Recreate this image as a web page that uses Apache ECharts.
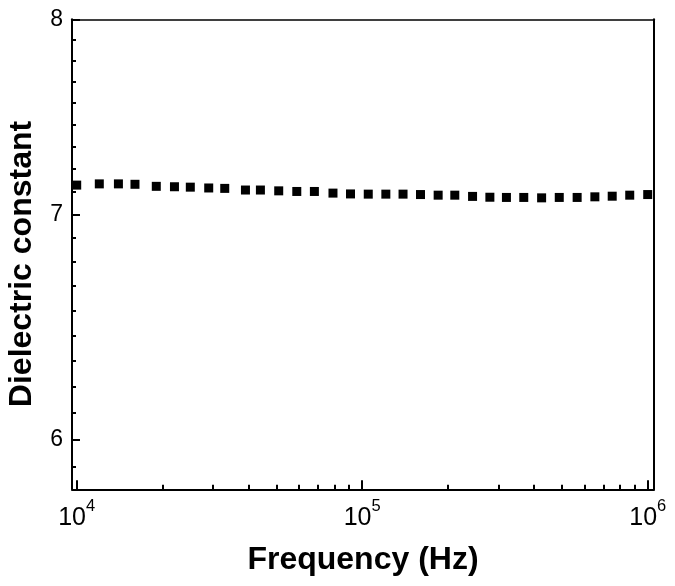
<!DOCTYPE html>
<html><head><meta charset="utf-8">
<script src="https://cdn.jsdelivr.net/npm/echarts@6/dist/echarts.min.js"></script>
<style>html,body{margin:0;padding:0;background:#fff}#c{width:675px;height:586px}</style>
</head><body><div id="c"></div>
<script>
// ---- data ----
const freqHz = [10000, 12000, 14000, 16000, 19000, 22000, 25000, 29000, 33000, 39000,
  44000, 51000, 59000, 68000, 79000, 91000, 105000, 121000, 139000, 160000,
  184500, 211000, 243500, 280000, 320000, 368000, 425000, 490000, 566000, 653000,
  751000, 865000, 1000000];
const dielectric = [7.142, 7.148, 7.148, 7.146, 7.136, 7.134, 7.132, 7.128, 7.126, 7.118,
  7.118, 7.114, 7.111, 7.111, 7.103, 7.099, 7.098, 7.098, 7.098, 7.096,
  7.093, 7.093, 7.087, 7.083, 7.082, 7.082, 7.080, 7.082, 7.082, 7.085,
  7.088, 7.093, 7.096];
const xMajorTicks = [1e4, 1e5, 1e6];
const xMinorTicks = [2e4, 3e4, 4e4, 5e4, 6e4, 7e4, 8e4, 9e4, 2e5, 3e5, 4e5, 5e5, 6e5, 7e5, 8e5, 9e5];
const yMajorTicks = [6, 7, 8];
const xTitle = 'Frequency (Hz)';
const yTitle = 'Dielectric constant';

// axis ranges
const X_MIN = 9628, X_MAX = 1052000;
const Y_MIN = 5.8, Y_MAX = 8;

// minor ticks on y: 8 per major interval
const yMinorTicks = [];
for (let m = 5; m < 8; m++) for (let k = 1; k < 9; k++) {
  const v = m + k / 9;
  if (v > Y_MIN && v < Y_MAX) yMinorTicks.push(v);
}

const lg = Math.log10;
const FONT = '"Liberation Sans", Arial, sans-serif';
const BLACK = '#000';
const chart = echarts.init(document.getElementById('c'), null, {renderer: 'canvas'});

const hidden = {axisLine: {show: false}, axisTick: {show: false}, axisLabel: {show: false}, splitLine: {show: false}};

const option = {
  animation: false,
  backgroundColor: '#fff',
  grid: {left: 72, right: 21, top: 19.3, bottom: 96.7},
  xAxis: [
    {type: 'log', logBase: 10, min: X_MIN, max: X_MAX, show: false},
    {type: 'value', min: lg(X_MIN), max: lg(X_MAX), position: 'bottom',
      axisLine: {show: true, lineStyle: {color: BLACK, width: 2}},
      axisTick: {show: true, inside: true, length: 9, lineStyle: {color: BLACK, width: 2}, customValues: xMajorTicks.map(lg)},
      axisLabel: {show: true, customValues: xMajorTicks.map(lg), margin: 9,
        formatter: v => '{b|10}{s|' + Math.round(v) + '}',
        rich: {
          b: {fontSize: 25, fontFamily: FONT, color: BLACK, lineHeight: 32, verticalAlign: 'bottom'},
          s: {fontSize: 16.5, fontFamily: FONT, color: BLACK, lineHeight: 16, verticalAlign: 'top'}
        }},
      splitLine: {show: false}},
    Object.assign({type: 'value', min: lg(X_MIN), max: lg(X_MAX), position: 'bottom'}, hidden,
      {axisTick: {show: true, inside: true, length: 4.5, lineStyle: {color: BLACK, width: 2}, customValues: xMinorTicks.map(lg)}}),
    Object.assign({type: 'value', min: 0, max: 1, position: 'top'}, hidden,
      {axisLine: {show: true, lineStyle: {color: BLACK, width: 1.5}}})
  ],
  yAxis: [
    {type: 'log', logBase: 10, min: Y_MIN, max: Y_MAX, show: false},
    {type: 'value', min: lg(Y_MIN), max: lg(Y_MAX), position: 'left',
      axisLine: {show: true, lineStyle: {color: BLACK, width: 2}},
      axisTick: {show: true, inside: true, length: 8, lineStyle: {color: BLACK, width: 2}, customValues: yMajorTicks.map(lg)},
      axisLabel: {show: true, customValues: yMajorTicks.map(lg), margin: 9,
        formatter: v => String(Math.round(Math.pow(10, v))),
        fontSize: 23, fontFamily: FONT, color: BLACK},
      splitLine: {show: false}},
    Object.assign({type: 'value', min: lg(Y_MIN), max: lg(Y_MAX), position: 'left'}, hidden,
      {axisTick: {show: true, inside: true, length: 4, lineStyle: {color: BLACK, width: 2}, customValues: yMinorTicks.map(lg)}}),
    Object.assign({type: 'value', min: 0, max: 1, position: 'right'}, hidden,
      {axisLine: {show: true, lineStyle: {color: BLACK, width: 2}}})
  ],
  graphic: [
    {type: 'text', x: 363, y: 560, z: 10,
      style: {text: xTitle, fontSize: 32, fontWeight: 'bold', fontFamily: FONT, fill: BLACK, align: 'center', verticalAlign: 'middle'}},
    {type: 'text', x: 22, y: 264, rotation: Math.PI / 2, z: 10,
      style: {text: yTitle, fontSize: 32, fontWeight: 'bold', fontFamily: FONT, fill: BLACK, align: 'center', verticalAlign: 'middle'}}
  ],
  series: [{
    type: 'scatter', xAxisIndex: 0, yAxisIndex: 0,
    data: freqHz.map((f, i) => [f, dielectric[i]]),
    symbol: 'rect', symbolSize: 9,
    itemStyle: {color: BLACK, opacity: 1},
    clip: false, z: 5
  }]
};
chart.setOption(option);
</script></body></html>
